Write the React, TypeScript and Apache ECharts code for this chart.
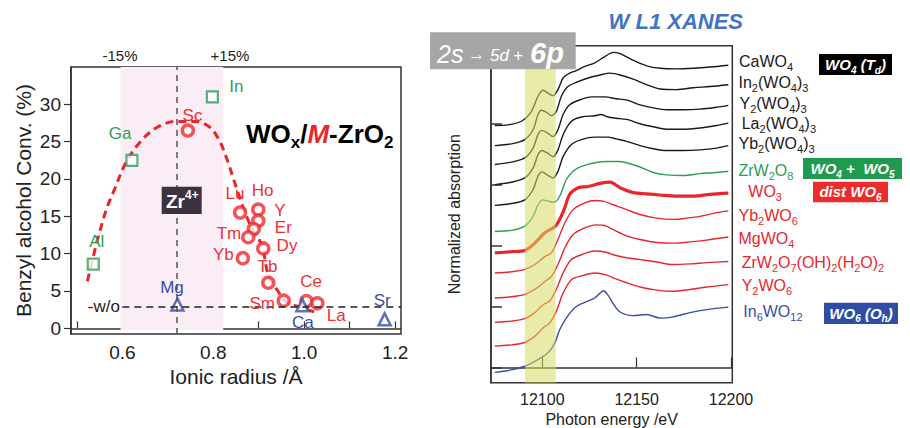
import React, { useEffect, useRef } from 'react';
import * as echarts from 'echarts';

const FONT = '"Liberation Sans", Arial, Helvetica, sans-serif';

// ---------- Left panel data ----------
const greenNames = ['Al', 'Ga', 'In'];
const greenRadius = [0.536, 0.621, 0.798];
const greenConv = [8.6, 22.5, 31.0];

const redNames = ['Sc', 'Lu', 'Ho', 'Y', 'Er', 'Tm', 'Dy', 'Yb', 'Tb', 'Sm', 'Ce', 'La'];
const redRadius = [0.744, 0.859, 0.899, 0.899, 0.889, 0.877, 0.91, 0.865, 0.921, 0.955, 1.005, 1.029];
const redConv = [26.5, 15.5, 15.9, 14.4, 13.3, 12.2, 10.7, 9.4, 6.1, 3.7, 3.65, 3.35];

const blueNames = ['Mg', 'Ca', 'Sr'];
const blueRadius = [0.721, 0.996, 1.177];
const blueConv = [3.2, 3.1, 1.2];

const trendRadius = [0.523, 0.534, 0.549, 0.567, 0.582, 0.607, 0.637, 0.673, 0.717, 0.761, 0.791, 0.813, 0.831, 0.845, 0.86, 0.878, 0.893, 0.908, 0.922, 0.941, 0.959, 0.988, 1.032];
const trendConv = [6.3, 9.1, 12.7, 16.3, 18.5, 22.1, 24.8, 26.8, 27.7, 27.7, 27.0, 25.2, 22.5, 19.9, 17.2, 14.3, 12.7, 10.9, 6.9, 5.1, 3.6, 2.9, 2.0];

const zrRadius = 0.72;
const woConv = 2.9;
const bandRadius = [0.596, 0.822];
const radiusTicks = [0.5, 0.6, 0.7, 0.8, 0.9, 1.0, 1.1, 1.2];
const radiusLabels = [0.6, 0.8, 1.0, 1.2];
const convTicks = [0, 5, 10, 15, 20, 25, 30];

// ---------- Right panel data (energy eV, offset normalized absorption) ----------
const caWO4 = [[12074.8, 3.97], [12081.8, 3.98], [12088.9, 4.04], [12094.2, 4.2], [12097.7, 4.45], [12100.4, 4.55], [12103.0, 4.5], [12105.7, 4.46], [12108.3, 4.56], [12111.0, 4.75], [12114.5, 4.83], [12118.0, 4.87], [12122.5, 4.94], [12127.8, 5.0], [12133.1, 5.1], [12137.6, 5.17], [12141.2, 5.15], [12148.2, 5.04], [12155.3, 4.95], [12162.4, 4.91], [12171.2, 4.9], [12180.0, 4.91], [12188.9, 4.93], [12198.6, 4.96]];
const in2WO43 = [[12074.8, 3.64], [12083.6, 3.67], [12090.7, 3.74], [12095.1, 3.9], [12097.7, 4.15], [12099.5, 4.22], [12102.1, 4.19], [12104.8, 4.13], [12107.4, 4.2], [12110.1, 4.45], [12113.6, 4.61], [12118.9, 4.69], [12124.2, 4.75], [12130.6, 4.8], [12135.9, 4.83], [12141.2, 4.8], [12148.2, 4.73], [12155.3, 4.64], [12162.4, 4.57], [12171.2, 4.56], [12180.0, 4.59], [12188.9, 4.61], [12198.6, 4.64]];
const y2WO43 = [[12074.8, 3.33], [12083.6, 3.37], [12090.7, 3.44], [12095.1, 3.6], [12097.7, 3.82], [12099.8, 3.89], [12102.6, 3.85], [12105.7, 3.79], [12108.3, 3.9], [12111.0, 4.15], [12114.5, 4.31], [12119.8, 4.39], [12126.0, 4.44], [12133.1, 4.44], [12139.2, 4.41], [12144.7, 4.39], [12151.8, 4.31], [12158.8, 4.26], [12165.9, 4.23], [12174.7, 4.23], [12183.6, 4.24], [12192.4, 4.27], [12198.6, 4.3]];
const la2WO43 = [[12074.8, 3.0], [12083.6, 3.04], [12090.7, 3.11], [12095.1, 3.27], [12097.7, 3.49], [12099.8, 3.56], [12102.6, 3.52], [12105.7, 3.46], [12108.3, 3.57], [12111.0, 3.82], [12115.4, 4.04], [12120.7, 4.11], [12127.8, 4.13], [12131.0, 4.15], [12134.8, 4.11], [12139.2, 4.09], [12144.7, 4.07], [12151.8, 4.0], [12158.8, 3.95], [12165.9, 3.91], [12174.7, 3.91], [12183.6, 3.93], [12192.4, 3.97], [12198.6, 4.01]];
const yb2WO43 = [[12074.8, 2.66], [12083.6, 2.69], [12090.7, 2.75], [12095.1, 2.92], [12097.7, 3.14], [12099.8, 3.21], [12102.6, 3.16], [12105.7, 3.11], [12108.3, 3.22], [12111.0, 3.46], [12115.4, 3.66], [12120.7, 3.74], [12127.8, 3.78], [12134.8, 3.78], [12139.2, 3.75], [12144.7, 3.71], [12151.8, 3.64], [12158.8, 3.59], [12165.9, 3.56], [12174.7, 3.56], [12183.6, 3.57], [12192.4, 3.6], [12198.6, 3.64]];
const zrW2O8 = [[12074.8, 2.23], [12083.6, 2.25], [12090.7, 2.32], [12095.1, 2.48], [12097.7, 2.67], [12100.4, 2.75], [12103.0, 2.73], [12106.2, 2.71], [12109.2, 2.81], [12112.7, 3.08], [12116.3, 3.22], [12120.7, 3.3], [12127.8, 3.36], [12134.8, 3.38], [12140.1, 3.38], [12144.7, 3.36], [12151.8, 3.29], [12158.8, 3.2], [12165.9, 3.16], [12174.7, 3.15], [12183.6, 3.18], [12192.4, 3.2], [12198.6, 3.22]];
const wo3 = [[12074.8, 1.88], [12083.6, 1.9], [12090.7, 1.92], [12096.0, 2.04], [12101.3, 2.21], [12106.6, 2.31], [12109.2, 2.43], [12111.9, 2.62], [12114.5, 2.84], [12119.0, 2.95], [12124.2, 2.97], [12130.6, 3.02], [12135.9, 3.04], [12141.2, 2.95], [12148.2, 2.87], [12155.3, 2.85], [12162.4, 2.83], [12171.2, 2.81], [12180.0, 2.81], [12188.9, 2.84], [12198.6, 2.86]];
const yb2WO6 = [[12074.8, 1.55], [12083.6, 1.57], [12090.7, 1.61], [12096.0, 1.69], [12101.3, 1.82], [12104.8, 1.88], [12108.3, 2.1], [12111.9, 2.37], [12116.3, 2.59], [12122.5, 2.7], [12127.8, 2.74], [12132.2, 2.73], [12137.6, 2.67], [12144.7, 2.59], [12151.8, 2.51], [12160.6, 2.45], [12169.4, 2.43], [12176.5, 2.45], [12183.6, 2.48], [12192.4, 2.54], [12198.6, 2.57]];
const mgWO4 = [[12074.8, 1.14], [12083.6, 1.16], [12090.7, 1.2], [12096.0, 1.28], [12101.3, 1.41], [12104.8, 1.49], [12108.3, 1.69], [12111.9, 1.96], [12116.3, 2.18], [12122.5, 2.29], [12128.6, 2.34], [12133.1, 2.33], [12137.6, 2.26], [12144.7, 2.16], [12151.8, 2.1], [12160.6, 2.05], [12169.4, 2.04], [12178.3, 2.06], [12187.1, 2.09], [12198.6, 2.14]];
const zrW2O7 = [[12074.8, 0.74], [12083.6, 0.76], [12090.7, 0.8], [12096.0, 0.9], [12100.4, 1.03], [12103.9, 1.09], [12107.4, 1.28], [12111.0, 1.55], [12115.4, 1.77], [12121.6, 1.86], [12127.8, 1.91], [12133.9, 1.89], [12137.6, 1.85], [12144.7, 1.8], [12151.8, 1.77], [12160.6, 1.73], [12169.4, 1.69], [12178.3, 1.7], [12187.1, 1.72], [12198.6, 1.74]];
const y2WO6 = [[12074.8, 0.35], [12083.6, 0.37], [12090.7, 0.41], [12096.0, 0.51], [12100.4, 0.65], [12103.9, 0.73], [12107.4, 0.92], [12111.0, 1.22], [12115.4, 1.44], [12121.6, 1.51], [12127.8, 1.55], [12133.9, 1.52], [12137.6, 1.47], [12144.7, 1.39], [12151.8, 1.32], [12160.6, 1.27], [12169.4, 1.25], [12178.3, 1.28], [12187.1, 1.32], [12198.6, 1.36]];
const in6WO12 = [[12074.8, -0.08], [12083.6, -0.04], [12090.7, 0.02], [12097.7, 0.13], [12103.0, 0.24], [12106.6, 0.4], [12109.2, 0.62], [12112.7, 0.81], [12117.2, 0.98], [12122.5, 1.07], [12127.8, 1.14], [12130.6, 1.22], [12132.4, 1.26], [12135.0, 1.18], [12137.5, 1.05], [12141.2, 0.91], [12148.2, 0.85], [12155.3, 0.87], [12162.4, 0.81], [12169.4, 0.83], [12178.3, 0.9], [12187.1, 0.95], [12198.6, 0.99]];

const specNames = ['CaWO_4', 'In_2(WO_4)_3', 'Y_2(WO_4)_3', 'La_2(WO_4)_3', 'Yb_2(WO_4)_3', 'ZrW_2O_8', 'WO_3', 'Yb_2WO_6', 'MgWO_4', 'ZrW_2O_7(OH)_2(H_2O)_2', 'Y_2WO_6', 'In_6WO_12'];
const specData = [caWO4, in2WO43, y2WO43, la2WO43, yb2WO43, zrW2O8, wo3, yb2WO6, mgWO4, zrW2O7, y2WO6, in6WO12];
const yellowBand = [12090.8, 12107.1];
const energyTicks = [12100, 12150, 12200];
const absTicks = [0, 1, 2, 3, 4];

// ---------- styling ----------
const BLACK = '#1a1a1a';
const GREEN = '#2e9e55';
const RED = '#e8262c';
const BLUE = '#3a4ea6';
const specColors = [BLACK, BLACK, BLACK, BLACK, BLACK, GREEN, RED, RED, RED, RED, RED, BLUE];
const specWidths = [1.4, 1.4, 1.4, 1.4, 1.4, 1.4, 3.2, 1.4, 1.4, 1.4, 1.4, 1.4];

function chem(s: string) {
  const parts = s.split(/_(\d+|[a-z])/);
  let out = '';
  parts.forEach((p, i) => {
    if (!p) return;
    out += i % 2 === 0 ? `{m|${p}}` : `{s|${p}}`;
  });
  return out;
}

function richSet(color: string, size: number, extra: any = {}) {
  const ss = Math.round(size * 0.68);
  return {
    m: { fill: color, fontSize: size, lineHeight: size + 6, verticalAlign: 'middle', fontFamily: FONT, ...extra },
    s: { fill: color, fontSize: ss, lineHeight: ss, verticalAlign: 'bottom', fontFamily: FONT, ...extra },
  };
}

function txt(text: string, x: number, y: number, color: string, size: number, align = 'left', extra: any = {}) {
  return {
    type: 'text', x, y, z: 100, silent: true,
    style: { text: chem(text), align, verticalAlign: 'middle', fill: color, fontSize: size, fontFamily: FONT, rich: richSet(color, size, extra) },
  };
}

function plain(text: string, x: number, y: number, size: number, extra: any = {}) {
  return {
    type: 'text', x, y, z: 100, silent: true,
    style: { text, align: 'left', verticalAlign: 'bottom', fill: '#fff', fontSize: size, fontFamily: FONT, fontStyle: 'italic', ...extra },
  };
}

function badge(text: string, x: number, y: number, w: number, h: number, bg: string) {
  return [
    { type: 'rect', z: 99, silent: true, shape: { x, y, width: w, height: h }, style: { fill: bg } },
    txt(text, x + w / 2, y + h / 2, '#ffffff', 15, 'center', { fontWeight: 'bold', fontStyle: 'italic' }),
  ];
}

// label positions (pixels) for the left-panel point names
const greenLabelPos = [[96.7, 241.7], [120, 133.7], [236.3, 86]];
const redLabelPos = [[192.5, 115], [235, 193], [262.6, 190], [280, 210], [283.3, 227.7], [229, 233], [287, 245], [223.3, 254], [267.5, 266.7], [262.2, 303], [311, 281], [336.3, 315]];
const blueLabelPos = [[172, 287.5], [302.8, 322.5], [382.2, 300.3]];
const specLabelPos = [[739, 61.7], [738.5, 82], [739.5, 103], [741.7, 123], [738.5, 143.5], [738.5, 170], [748.3, 191], [738.5, 215], [738.5, 238], [741.7, 262], [741.7, 285], [743.3, 311]];

function bandItem(color: string) {
  return (params: any, api: any) => {
    const p0 = api.coord([api.value(0), api.value(3)]);
    const p1 = api.coord([api.value(1), api.value(2)]);
    return { type: 'rect', shape: { x: p0[0], y: p0[1], width: p1[0] - p0[0], height: p1[1] - p0[1] }, style: { fill: color } };
  };
}

export default function App() {
  const ref = useRef<HTMLDivElement>(null);
  useEffect(() => {
    document.body.style.margin = '0';
    const chart = echarts.init(ref.current!, null, { renderer: 'svg', width: 910, height: 428 });
    const axisLine = { show: true, lineStyle: { color: '#333', width: 1.5 } };
    const graphic: any[] = [];
    greenNames.forEach((n, i) => graphic.push(txt(n, greenLabelPos[i][0], greenLabelPos[i][1], GREEN, 17, 'center')));
    redNames.forEach((n, i) => graphic.push(txt(n, redLabelPos[i][0], redLabelPos[i][1], '#ee3036', 17, 'center')));
    blueNames.forEach((n, i) => graphic.push(txt(n, blueLabelPos[i][0], blueLabelPos[i][1], BLUE, 17, 'center')));
    graphic.push(txt('-w/o', 103.8, 306.7, '#222', 17, 'center'));
    graphic.push(txt('-15%', 120, 55.8, '#222', 15, 'center'));
    graphic.push(txt('+15%', 230, 55.8, '#222', 15, 'center'));
    // title WOx/M-ZrO2
    graphic.push({
      type: 'text', x: 246, y: 134, z: 100, silent: true,
      style: {
        text: '{b|WO}{bs|x}{b|/}{r|M}{b|-ZrO}{bs|2}', align: 'left', verticalAlign: 'middle',
        rich: {
          b: { fill: '#000', fontSize: 26, fontWeight: 'bold', fontFamily: FONT, lineHeight: 34, verticalAlign: 'middle' },
          r: { fill: RED, fontSize: 26, fontWeight: 'bold', fontStyle: 'italic', fontFamily: FONT, lineHeight: 34, verticalAlign: 'middle' },
          bs: { fill: '#000', fontSize: 17, fontWeight: 'bold', fontFamily: FONT, lineHeight: 17, verticalAlign: 'bottom' },
        },
      },
    });
    // Zr4+ box
    graphic.push({ type: 'rect', z: 99, silent: true, shape: { x: 161.7, y: 186.7, width: 40, height: 27.3 }, style: { fill: '#3d3340' } });
    graphic.push({
      type: 'text', x: 166, y: 201, z: 100, silent: true,
      style: {
        text: '{a|Zr}{p|4+}', align: 'left', verticalAlign: 'middle',
        rich: {
          a: { fill: '#fff', fontSize: 19, fontWeight: 'bold', fontFamily: FONT, lineHeight: 24, verticalAlign: 'middle' },
          p: { fill: '#fff', fontSize: 12, fontWeight: 'bold', fontFamily: FONT, lineHeight: 12, verticalAlign: 'top' },
        },
      },
    });
    // Right panel texts
    graphic.push({
      type: 'text', x: 675.8, y: 21.7, z: 100, silent: true,
      style: { text: 'W L1 XANES', align: 'center', verticalAlign: 'middle', fill: '#4472c4', fontSize: 22, fontWeight: 'bold', fontStyle: 'italic', fontFamily: FONT },
    });
    graphic.push({ type: 'rect', z: 99, silent: true, shape: { x: 430, y: 32.3, width: 145.7, height: 37 }, style: { fill: '#a6a6a6' } });
    graphic.push(plain('2s', 437, 66, 25));
    graphic.push(plain('\u2192', 468, 63, 17));
    graphic.push(plain('5d', 490, 63.5, 17));
    graphic.push(plain('+', 513, 63.5, 17));
    graphic.push(plain('6p', 530, 67, 29, { fontWeight: 'bold' }));
    specNames.forEach((n, i) => graphic.push(txt(n, specLabelPos[i][0], specLabelPos[i][1], specColors[i], 16, 'left')));
    graphic.push(...badge('WO_4 (T_d)', 819, 54, 73, 21, '#000000'));
    graphic.push(...badge('WO_4 +  WO_5', 803, 158, 99, 21, '#1e9b4f'));
    graphic.push(...badge('dist WO_6', 813, 181.7, 75, 20.5, '#ee2a2a'));
    graphic.push(...badge('WO_6 (O_h)', 824, 302.7, 74, 21.3, '#2e4ea6'));

    const series: any[] = [
      {
        type: 'custom', xAxisIndex: 0, yAxisIndex: 0, z: 1, silent: true,
        renderItem: bandItem('#fbedf5'),
        encode: { x: [0, 1], y: [2, 3] },
        data: [[bandRadius[0], bandRadius[1], -0.23, 35]],
      },
      {
        type: 'line', xAxisIndex: 0, yAxisIndex: 0, z: 3, silent: true,
        data: trendRadius.map((x, i) => [x, trendConv[i]]),
        smooth: 0.35, showSymbol: false, symbol: 'none',
        lineStyle: { color: RED, width: 3, type: [8, 5] },
        markLine: {
          silent: true, symbol: ['none', 'none'], label: { show: false },
          data: [
            { xAxis: zrRadius, lineStyle: { color: '#555', width: 1.5, type: [6, 5] } },
            [{ coord: [0.6, woConv], lineStyle: { color: '#222', width: 1.5, type: [7, 5] } }, { coord: [1.213, woConv] }],
          ],
        },
      },
      {
        type: 'scatter', xAxisIndex: 0, yAxisIndex: 0, z: 4, silent: true,
        symbol: 'rect', symbolSize: 11,
        itemStyle: { color: '#fff', borderColor: GREEN, borderWidth: 2.2 },
        data: greenRadius.map((x, i) => [x, greenConv[i]]),
      },
      {
        type: 'scatter', xAxisIndex: 0, yAxisIndex: 0, z: 4, silent: true,
        symbol: 'circle', symbolSize: 11,
        itemStyle: { color: '#fff', borderColor: '#ee2a30', borderWidth: 3.5 },
        data: redRadius.map((x, i) => [x, redConv[i]]),
      },
      {
        type: 'scatter', xAxisIndex: 0, yAxisIndex: 0, z: 4, silent: true,
        symbol: 'triangle', symbolSize: 12,
        itemStyle: { color: '#fff', borderColor: BLUE, borderWidth: 2.5 },
        data: blueRadius.map((x, i) => [x, blueConv[i]]),
      },
      ...specData.map((d, i) => ({
        type: 'line', xAxisIndex: 1, yAxisIndex: 1, z: 2, silent: true,
        data: d, smooth: 0.3, showSymbol: false, symbol: 'none',
        lineStyle: { color: specColors[i], width: specWidths[i] },
      })),
      {
        type: 'custom', xAxisIndex: 1, yAxisIndex: 1, z: 5, silent: true,
        renderItem: bandItem('rgba(214, 220, 96, 0.55)'),
        encode: { x: [0, 1], y: [2, 3] },
        data: [[yellowBand[0], yellowBand[1], -0.25, 5.28]],
      },
    ];

    chart.setOption({
      animation: false,
      textStyle: { fontFamily: FONT },
      grid: [
        { left: 71, top: 67, width: 330, height: 267, show: true, borderColor: '#333', borderWidth: 1.5, backgroundColor: 'transparent', outerBoundsMode: 'none' },
        { left: 491, top: 45.7, width: 241.3, height: 337, show: true, borderColor: '#333', borderWidth: 1.5, backgroundColor: 'transparent', outerBoundsMode: 'none' },
      ],
      xAxis: [
        {
          gridIndex: 0, type: 'value', min: 0.487, max: 1.213,
          axisLine, splitLine: { show: false },
          axisTick: { inside: true, length: 7, customValues: radiusTicks, lineStyle: { color: '#333', width: 1.2 } },
          axisLabel: { customValues: radiusLabels, formatter: (v: number) => v.toFixed(1), fontSize: 19, color: '#222', margin: 9, fontFamily: FONT },
          name: 'Ionic radius /\u00C5', nameLocation: 'middle', nameGap: 32, nameMoveOverlap: false,
          nameTextStyle: { fontSize: 21, color: '#222', fontFamily: FONT },
        },
        {
          gridIndex: 1, type: 'value', min: 12072.8, max: 12200.7,
          axisLine, splitLine: { show: false },
          axisTick: { inside: true, length: 10, customValues: energyTicks, lineStyle: { color: '#333', width: 1.2 } },
          axisLabel: { customValues: energyTicks, fontSize: 16, color: '#222', margin: 9, fontFamily: FONT, formatter: (v: number) => String(v) },
          name: 'Photon energy /eV', nameLocation: 'middle', nameGap: 29, nameMoveOverlap: false,
          nameTextStyle: { fontSize: 16, color: '#222', fontFamily: FONT },
        },
      ],
      yAxis: [
        {
          gridIndex: 0, type: 'value', min: -0.76, max: 35,
          axisLine, splitLine: { show: false },
          axisTick: { inside: false, length: 7, customValues: convTicks, lineStyle: { color: '#333', width: 1.2 } },
          axisLabel: { customValues: convTicks, fontSize: 19, color: '#222', margin: 10, fontFamily: FONT },
          name: 'Benzyl alcohol Conv. (%)', nameLocation: 'middle', nameGap: 37, nameMoveOverlap: false,
          nameTextStyle: { fontSize: 21, color: '#222', fontFamily: FONT },
        },
        {
          gridIndex: 1, type: 'value', min: -0.25, max: 5.28,
          axisLine, splitLine: { show: false },
          axisTick: { inside: true, length: 11, customValues: absTicks, lineStyle: { color: '#333', width: 1.5 } },
          axisLabel: { show: false },
          name: 'Normalized absorption', nameLocation: 'middle', nameGap: 29, nameMoveOverlap: false,
          nameTextStyle: { fontSize: 16, color: '#222', fontFamily: FONT },
        },
      ],
      series,
      graphic,
    });
    return () => chart.dispose();
  }, []);
  return <div ref={ref} style={{ width: 910, height: 428 }} />;
}
